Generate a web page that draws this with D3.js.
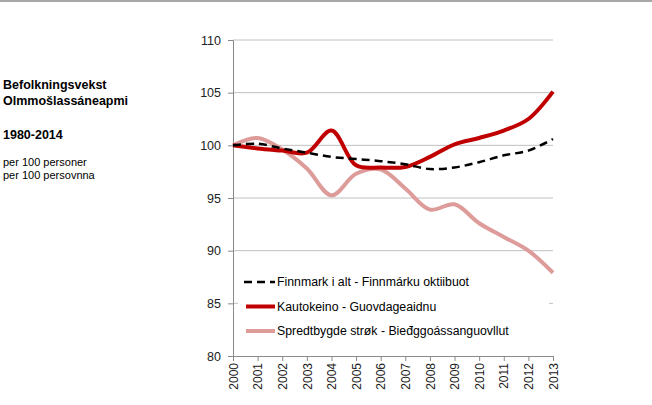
<!DOCTYPE html>
<html>
<head>
<meta charset="utf-8">
<script src="https://cdn.jsdelivr.net/npm/d3@7"></script>
<style>
  body { margin: 0; background: #fff; }
  svg { font-family: "Liberation Sans", Arial, sans-serif; }
</style>
</head>
<body>
<div class="chart"></div>
<script>
const WIDTH = 652;
const HEIGHT = 405;

const years = [2000, 2001, 2002, 2003, 2004, 2005, 2006, 2007, 2008, 2009, 2010, 2011, 2012, 2013];
const finnmark = [100, 100.15, 99.7, 99.3, 98.9, 98.7, 98.5, 98.2, 97.75, 97.9, 98.4, 99.05, 99.5, 100.6];
const kautokeino = [100, 99.7, 99.5, 99.3, 101.4, 98.1, 97.9, 97.95, 98.9, 100.1, 100.7, 101.4, 102.5, 105.1];
const spredtbygde = [100, 100.7, 99.6, 97.8, 95.25, 97.3, 97.7, 95.9, 93.9, 94.4, 92.6, 91.3, 90.0, 87.9];
const yTicks = [80, 85, 90, 95, 100, 105, 110];
const seriesNames = [
    'Finnmark i alt - Finnmárku oktiibuot',
    'Kautokeino - Guovdageaidnu',
    'Spredtbygde strøk - Bieđggoássanguovllut'
];
const titleLines = ['Befolkningsvekst', 'Olmmošlassáneapmi'];
const periodText = '1980-2014';
const unitLines = ['per 100 personer', 'per 100 persovnna'];

const LEFT = 233, RIGHT = 553, TOP = 40, BOTTOM = 356;

var xScale = d3.scaleLinear().domain([2000, 2013]).range([LEFT, RIGHT]);
var yScale = d3.scaleLinear().domain([80, 110]).range([BOTTOM, TOP]);

var svg = d3.select('.chart').append('svg')
    .attr('width', WIDTH)
    .attr('height', HEIGHT);

// top rule
svg.append('line')
    .attr('x1', 0).attr('x2', WIDTH).attr('y1', 1).attr('y2', 1)
    .attr('stroke', '#8a8a8a').attr('stroke-width', 1.5);

// left-hand titles
var title = svg.append('g').attr('font-weight', 'bold').attr('font-size', 12.5).attr('fill', '#000');
titleLines.forEach(function (t, i) {
    title.append('text').attr('x', 3).attr('y', 89 + i * 16).text(t);
});
title.append('text').attr('x', 3).attr('y', 139).text(periodText);

var unit = svg.append('g').attr('font-size', 11).attr('fill', '#000');
unitLines.forEach(function (t, i) {
    unit.append('text').attr('x', 3).attr('y', 166 + i * 12.5).text(t);
});

// gridlines
svg.append('g').selectAll('line').data(yTicks.filter(function (d) { return d > 80; })).enter().append('line')
    .attr('x1', LEFT).attr('x2', RIGHT)
    .attr('y1', function (d) { return yScale(d); })
    .attr('y2', function (d) { return yScale(d); })
    .attr('stroke', '#c0c0c0').attr('stroke-width', 1);

// legend box hides the gridline behind it
var legend = svg.append('g');
legend.append('rect').attr('x', 238).attr('y', 262).attr('width', 311).attr('height', 84).attr('fill', '#fff');

// y axis
var yAxis = d3.axisLeft(yScale).tickValues(yTicks).tickSize(5).tickPadding(7);
var yAxisG = svg.append('g').attr('transform', 'translate(' + LEFT + ',0)').call(yAxis);
yAxisG.select('.domain').attr('stroke', '#8a8a8a');
yAxisG.selectAll('.tick line').attr('stroke', '#8a8a8a');
yAxisG.selectAll('.tick text').attr('font-size', 12.5).attr('fill', '#222')
    .attr('font-family', '"Liberation Sans", Arial, sans-serif');

// x axis
var xAxis = d3.axisBottom(xScale).tickValues(years).tickFormat(d3.format('d')).tickSize(5).tickSizeOuter(0);
var xAxisG = svg.append('g').attr('transform', 'translate(0,' + BOTTOM + ')').call(xAxis);
xAxisG.select('.domain').attr('stroke', '#8a8a8a');
xAxisG.selectAll('.tick line').attr('stroke', '#8a8a8a');
xAxisG.selectAll('.tick text')
    .attr('font-size', 12).attr('fill', '#222')
    .attr('font-family', '"Liberation Sans", Arial, sans-serif')
    .attr('transform', 'rotate(-90)')
    .attr('text-anchor', 'end')
    .attr('x', -7).attr('y', 0).attr('dy', '0.35em');

// lines
var line = d3.line()
    .x(function (d, i) { return xScale(years[i]); })
    .y(function (d) { return yScale(d); })
    .curve(d3.curveCatmullRom.alpha(0.5));

svg.append('path').attr('d', line(spredtbygde))
    .attr('fill', 'none').attr('stroke', '#dd9c9a').attr('stroke-width', 4).attr('stroke-linejoin', 'round');
svg.append('path').attr('d', line(kautokeino))
    .attr('fill', 'none').attr('stroke', '#c00000').attr('stroke-width', 4).attr('stroke-linejoin', 'round');
svg.append('path').attr('d', line(finnmark))
    .attr('fill', 'none').attr('stroke', '#000').attr('stroke-width', 2.5).attr('stroke-dasharray', '8,5');

// legend entries
var legendStyles = [
    { color: '#000', width: 2.5, dash: '8,5', x1: 244 },
    { color: '#c00000', width: 4, dash: null, x1: 246 },
    { color: '#dd9c9a', width: 4, dash: null, x1: 246 }
];
var entries = svg.append('g');
seriesNames.forEach(function (name, i) {
    var y = 282 + i * 24.5;
    var s = legendStyles[i];
    entries.append('line')
        .attr('x1', s.x1).attr('x2', 275).attr('y1', y).attr('y2', y)
        .attr('stroke', s.color).attr('stroke-width', s.width)
        .attr('stroke-dasharray', s.dash);
    entries.append('text').attr('x', 277).attr('y', y).attr('dy', '0.36em')
        .attr('font-size', 12.3).attr('fill', '#000').text(name);
});
</script>
</body>
</html>
